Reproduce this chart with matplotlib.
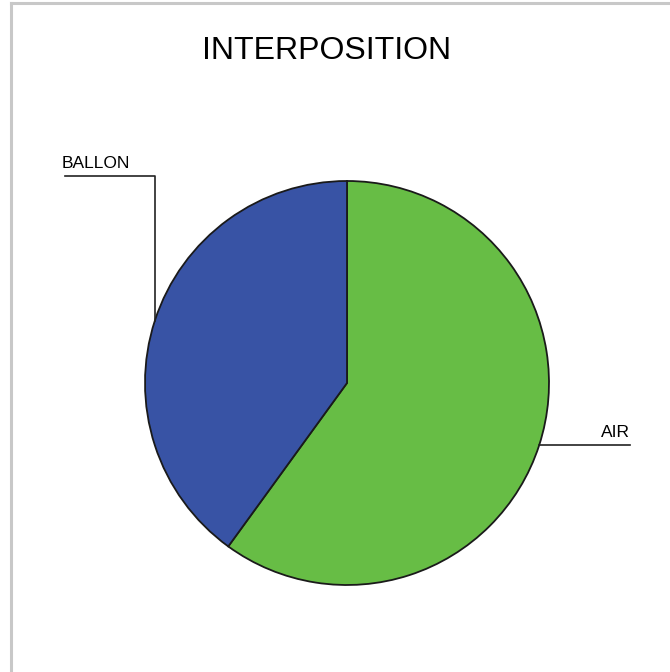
import numpy as np
import matplotlib.pyplot as plt
from matplotlib.lines import Line2D

plt.rcParams['font.family'] = ['Liberation Sans', 'DejaVu Sans']

# data
labels = ['AIR', 'BALLON']
values = [60, 40]
colors = ['#67bd45', '#3853a5']
title = 'INTERPOSITION'

W, H = 670, 672
fig = plt.figure(figsize=(W / 100, H / 100), dpi=100)
ax = fig.add_axes([0, 0, 1, 1])

cx, cy, r = 347, H - 383, 202
wedges, _ = ax.pie(values, colors=colors, startangle=90, counterclock=False,
                   center=(cx, cy), radius=r, frame=True,
                   wedgeprops={'edgecolor': '#1a1a1a', 'linewidth': 1.3})
ax.set_xlim(0, W)
ax.set_ylim(0, H)
ax.axis('off')

# leader lines from the middle of each wedge
for w, lab in zip(wedges, labels):
    mid = np.deg2rad((w.theta1 + w.theta2) / 2)
    ex, ey = cx + r * np.cos(mid), cy + r * np.sin(mid)
    if np.cos(mid) >= 0:
        ax.plot([ex, 630], [ey, ey], color='#222222', lw=1.2)
        ax.text(630, ey + 5, lab, ha='right', va='bottom', fontsize=12.5)
    else:
        ky = H - 176
        ax.plot([ex, ex, 65], [ey, ky, ky], color='#222222', lw=1.2)
        ax.text(62, ky + 5, lab, ha='left', va='bottom', fontsize=12.5)

fig.text(327 / W, 1 - 51 / H, title, ha='center', va='center', fontsize=23,
         family=['Liberation Sans Narrow', 'Liberation Sans'])

# light frame on top and left
fig.add_artist(Line2D([11 / W, 1], [1 - 3 / H, 1 - 3 / H], color='#c8c8c8', lw=2.2))
fig.add_artist(Line2D([11 / W, 11 / W], [0, 1 - 3 / H], color='#c8c8c8', lw=2.2))

fig.savefig('out.png', dpi=100, facecolor='white')
